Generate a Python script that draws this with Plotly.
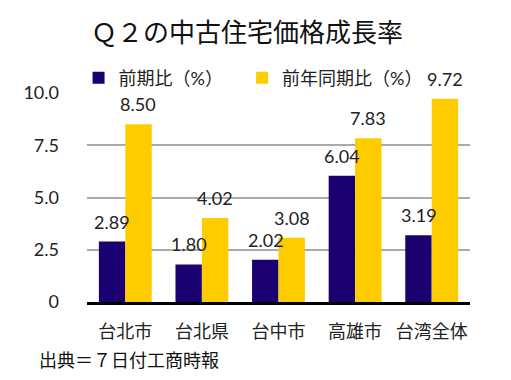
import plotly.graph_objects as go

categories = ["台北市", "台北県", "台中市", "高雄市", "台湾全体"]
qoq = [2.89, 1.80, 2.02, 6.04, 3.19]
yoy = [8.50, 4.02, 3.08, 7.83, 9.72]
series_names = ["前期比（%）", "前年同期比（%）"]
tick_vals = [0, 2.5, 5, 7.5, 10]
tick_text = ["0", "2.5", "5.0", "7.5", "10.0"]
title_text = "Ｑ２の中古住宅価格成長率"
source_text = "出典＝７日付工商時報"

FONT = "Lato, Noto Sans CJK JP, sans-serif"
NAVY = "#1b0072"
GOLD = "#ffcc00"
TXT = "#222222"

fig = go.Figure()
fig.add_trace(go.Bar(x=categories, y=qoq, name=series_names[0], marker_color=NAVY,
                     marker_line_width=0, legend="legend"))
fig.add_trace(go.Bar(x=categories, y=yoy, name=series_names[1], marker_color=GOLD,
                     marker_line_width=0, legend="legend2"))

# value labels above each bar
for series, shift in ((qoq, -13), (yoy, 13)):
    for c, v in zip(categories, series):
        fig.add_annotation(x=c, y=v, text=f"{v:.2f}", showarrow=False,
                           xshift=shift, yshift=7, yanchor="bottom", xanchor="center",
                           font=dict(size=18, color=TXT, family=FONT))

legend_style = dict(orientation="h", xanchor="left", y=1.072, yanchor="middle",
                    font=dict(size=18, color=TXT), itemwidth=30,
                    bgcolor="rgba(0,0,0,0)")

# page body adds an 8px offset, so the figure is laid out 8px smaller
fig.update_layout(
    width=503, height=372,
    margin=dict(l=79, r=41, t=85, b=78),
    paper_bgcolor="white", plot_bgcolor="white",
    font=dict(family=FONT, size=18, color=TXT),
    title=dict(text=title_text, x=0.165, xanchor="left", y=0.933, yanchor="middle",
               font=dict(size=26, color="#111", family=FONT)),
    barmode="group", bargap=0.31, bargroupgap=0,
    showlegend=True,
    legend=dict(x=-0.022, **legend_style),
    legend2=dict(x=0.405, **legend_style),
)
fig.update_yaxes(range=[0, 10], tickvals=tick_vals, ticktext=tick_text,
                 showgrid=True, gridcolor="#aaaaaa", gridwidth=2,
                 zeroline=False, showline=False, ticklabelstandoff=27,
                 automargin=False, tickfont=dict(size=18, color=TXT))
fig.update_xaxes(showline=True, linecolor="black", linewidth=3, automargin=False,
                 tickfont=dict(size=18, color=TXT), ticklabelstandoff=11)

fig.add_annotation(text=source_text, xref="paper", yref="paper", x=-0.1305, y=-0.2775,
                   xanchor="left", yanchor="middle", showarrow=False,
                   font=dict(size=18, color="#111", family=FONT))

fig.write_html("out.html")
